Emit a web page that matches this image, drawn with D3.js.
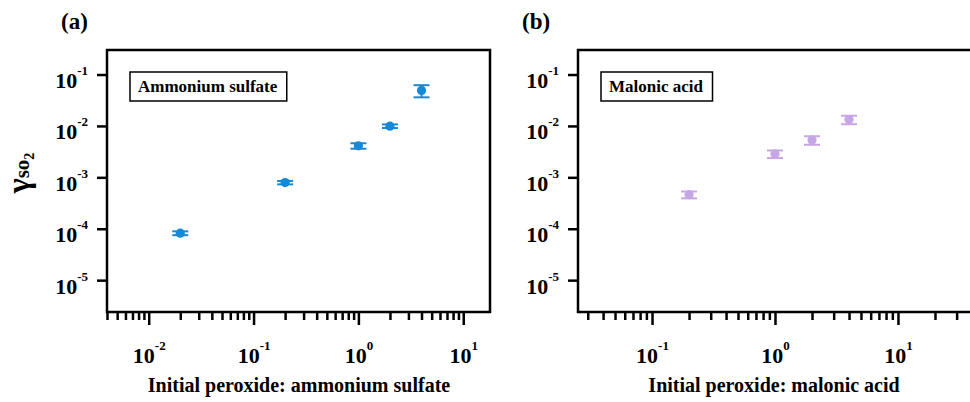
<!DOCTYPE html>
<html><head><meta charset="utf-8">
<script src="https://cdn.jsdelivr.net/npm/d3@7"></script>
<style>
body{margin:0;background:#fff;}
text{font-family:"Liberation Serif","Times New Roman",serif;font-weight:bold;fill:#000;}
</style></head>
<body><svg id="chart" width="970" height="402"></svg>
<script>
// ---- data ----
const xA = [0.02, 0.2, 1, 2, 4];
const yA = [8.2e-5, 7.9e-4, 4.1e-3, 9.9e-3, 0.049];
const errA = [7e-6, 6e-5, 5e-4, 8e-4, 0.013];
const xB = [0.2, 1, 2, 4];
const yB = [4.6e-4, 2.85e-3, 5.3e-3, 0.0133];
const errB = [7e-5, 4.8e-4, 1.0e-3, 2.5e-3];
const yTickExps = [-5, -4, -3, -2, -1];
const xTickExpsA = [-2, -1, 0, 1];
const xTickExpsB = [-1, 0, 1];
const yDomain = [2.4e-6, 0.3];
const xDomainA = [0.004, 18];
const xDomainB = [0.025, 40];

const svg = d3.select("#chart");

function drawPanel(cfg){
  const top = 50, bottom = 312;
  const x = d3.scaleLog().domain(cfg.xDomain).range([cfg.left, cfg.right]);
  const y = d3.scaleLog().domain(yDomain).range([bottom, top]);
  const g = svg.append("g");

  // y axis
  const yAxis = d3.axisLeft(y).tickValues(yTickExps.map(e => Math.pow(10, e)))
    .tickSize(10).tickSizeOuter(0).tickFormat(() => "");
  const gy = g.append("g").attr("transform", `translate(${cfg.left},0)`).call(yAxis);
  gy.select(".domain").remove();
  gy.selectAll(".tick line").attr("stroke", "#000").attr("stroke-width", 2.5);
  gy.selectAll(".tick").each(function(d){
    const t = d3.select(this).append("text").attr("x", -19).attr("y", 13)
      .attr("text-anchor", "end").style("font-size", "22px");
    t.append("tspan").text("10");
    t.append("tspan").attr("dy", -13).style("font-size", "13px").text(Math.round(Math.log10(d)));
  });

  // x axis minor ticks
  const minor = x.ticks().filter(v => Math.abs(Math.log10(v) - Math.round(Math.log10(v))) > 1e-6);
  const gxm = g.append("g").attr("transform", `translate(0,${bottom})`)
    .call(d3.axisBottom(x).tickValues(minor).tickSize(8).tickSizeOuter(0).tickFormat(() => ""));
  gxm.select(".domain").remove();
  gxm.selectAll(".tick line").attr("stroke", "#000").attr("stroke-width", 2.5);

  // x axis major ticks
  const gx = g.append("g").attr("transform", `translate(0,${bottom})`)
    .call(d3.axisBottom(x).tickValues(cfg.xTickExps.map(e => Math.pow(10, e)))
      .tickSize(13).tickSizeOuter(0).tickFormat(() => ""));
  gx.select(".domain").remove();
  gx.selectAll(".tick line").attr("stroke", "#000").attr("stroke-width", 2.5);
  gx.selectAll(".tick").each(function(d){
    const t = d3.select(this).append("text").attr("x", 0).attr("y", 51)
      .attr("text-anchor", "middle").style("font-size", "22px");
    t.append("tspan").text("10");
    t.append("tspan").attr("dy", -13).style("font-size", "13px").text(Math.round(Math.log10(d)));
  });

  // frame
  g.append("rect").attr("x", cfg.left).attr("y", top)
    .attr("width", cfg.right - cfg.left).attr("height", bottom - top)
    .attr("fill", "none").attr("stroke", "#000").attr("stroke-width", 2.5);

  // error bars + points
  const pts = g.append("g");
  cfg.xs.forEach((xv, i) => {
    const cx = x(xv), yv = cfg.ys[i], e = cfg.errs[i];
    const y1 = y(yv + e), y0 = y(yv - e);
    pts.append("line").attr("x1", cx).attr("x2", cx).attr("y1", y1).attr("y2", y0)
      .attr("stroke", cfg.color).attr("stroke-width", 2);
    [y1, y0].forEach(yy => pts.append("line").attr("x1", cx - 8).attr("x2", cx + 8)
      .attr("y1", yy).attr("y2", yy).attr("stroke", cfg.color).attr("stroke-width", 2));
    pts.append("circle").attr("cx", cx).attr("cy", y(yv)).attr("r", 4.6).attr("fill", cfg.color);
  });

  // legend box
  const lt = g.append("text").attr("x", cfg.left + 31).attr("y", 92)
    .style("font-size", "17px").text(cfg.legend);
  const bb = lt.node().getBBox();
  g.append("rect").attr("x", cfg.left + 23).attr("y", 72)
    .attr("width", bb.width + 17).attr("height", 29)
    .attr("fill", "none").attr("stroke", "#000").attr("stroke-width", 1.5);

  // x title
  g.append("text").attr("x", cfg.titleX).attr("y", 392).attr("text-anchor", "middle")
    .style("font-size", "20px").text(cfg.xTitle);

  // panel letter
  g.append("text").attr("x", cfg.letterX).attr("y", 29).style("font-size", "23px").text(cfg.letter);
}

drawPanel({left:107, right:490, xDomain:xDomainA, xTickExps:xTickExpsA, xs:xA, ys:yA, errs:errA,
  color:"#1689d6", legend:"Ammonium sulfate", xTitle:"Initial peroxide: ammonium sulfate",
  titleX:299, letter:"(a)", letterX:61});
drawPanel({left:578, right:972, xDomain:xDomainB, xTickExps:xTickExpsB, xs:xB, ys:yB, errs:errB,
  color:"#c7a6e8", legend:"Malonic acid", xTitle:"Initial peroxide: malonic acid",
  titleX:774, letter:"(b)", letterX:522});

// y label
const yl = svg.append("text").attr("transform", "translate(29,173) rotate(-90)")
  .attr("text-anchor", "middle");
yl.append("tspan").style("font-size", "32px").text("γ");
yl.append("tspan").style("font-size", "21px").text("so");
yl.append("tspan").attr("dy", 5).style("font-size", "14px").text("2");
</script></body></html>
